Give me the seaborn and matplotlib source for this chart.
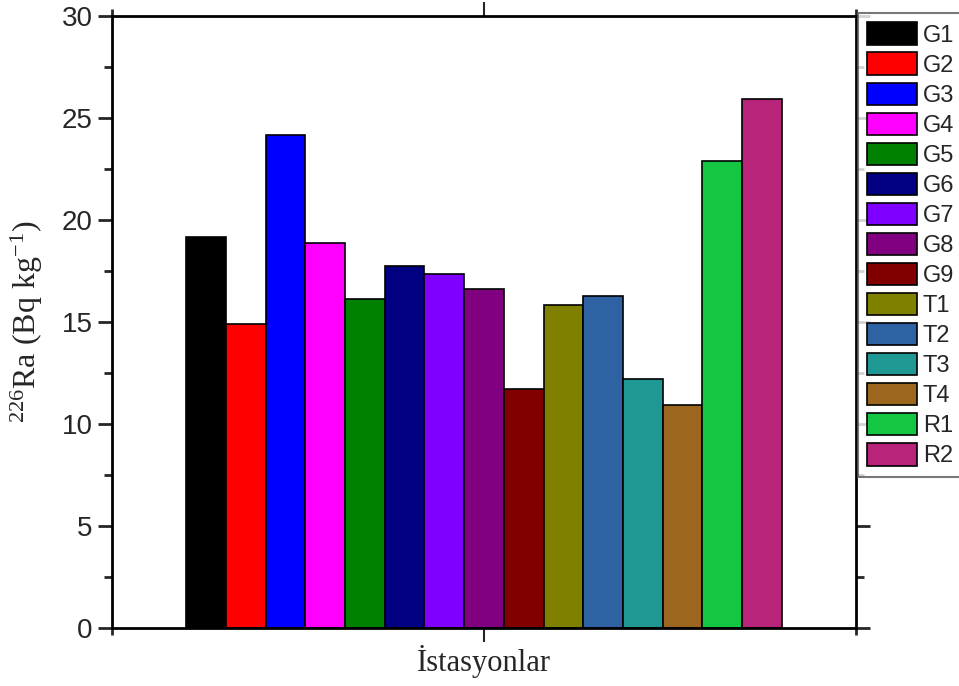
import matplotlib
matplotlib.use("Agg")
import matplotlib.pyplot as plt
import seaborn as sns
import pandas as pd
from matplotlib.ticker import MultipleLocator, FixedLocator

stations = ["G1", "G2", "G3", "G4", "G5", "G6", "G7", "G8", "G9",
            "T1", "T2", "T3", "T4", "R1", "R2"]
values = [19.15, 14.92, 24.15, 18.89, 16.13, 17.76, 17.37, 16.63, 11.73,
          15.83, 16.26, 12.21, 10.93, 22.91, 25.95]
colors = ["#000000", "#FF0000", "#0000FF", "#FF00FF", "#008000", "#000080",
          "#8000FF", "#800080", "#800000", "#808000", "#2E62A2", "#1F9893",
          "#9C661E", "#14C742", "#B8247A"]

df = pd.DataFrame({"group": [""] * len(stations), "station": stations, "value": values})

sns.set_style("ticks")
plt.rcParams["mathtext.fontset"] = "custom"
plt.rcParams["mathtext.rm"] = "Liberation Serif"
plt.rcParams["mathtext.it"] = "Liberation Serif:italic"
plt.rcParams["mathtext.bf"] = "Liberation Serif:bold"

fig = plt.figure(figsize=(9.59, 6.86), dpi=100)
ax = fig.add_axes([112 / 959, 1 - 628 / 686, (856 - 112) / 959, (628 - 16) / 686])

sns.barplot(data=df, x="group", y="value", hue="station", hue_order=stations,
            palette=colors, width=0.8, dodge=True, saturation=1,
            edgecolor="black", linewidth=1.2, ax=ax, legend=True)

ax.set_xlim(-0.5, 0.5)
ax.set_ylim(0, 30)
ax.yaxis.set_major_locator(MultipleLocator(5))
ax.yaxis.set_minor_locator(MultipleLocator(2.5))
ax.xaxis.set_major_locator(FixedLocator([0]))
ax.xaxis.set_minor_locator(FixedLocator([-0.5, 0.5]))
ax.set_xticklabels([""])

for s in ax.spines.values():
    s.set_visible(True)
    s.set_linewidth(2)
    s.set_color("black")

ax.tick_params(axis="y", which="major", direction="out", length=10, width=2,
               left=True, right=True, labelsize=20, pad=4)
ax.tick_params(axis="y", which="minor", direction="out", length=6, width=2,
               left=True, right=True)
ax.tick_params(axis="x", which="major", direction="out", length=10, width=1.5,
               bottom=True, top=True, pad=0)
ax.tick_params(axis="x", which="minor", direction="out", length=5, width=2,
               bottom=True, top=True)
for lab in ax.get_yticklabels():
    lab.set_fontfamily("Liberation Sans")

ax.set_xlabel("İstasyonlar", fontfamily="Liberation Serif", fontsize=22, labelpad=2)
ax.set_ylabel(r"$\mathregular{^{226}}$Ra (Bq kg$\mathregular{^{-1}}$)",
              fontfamily="Liberation Serif", fontsize=23, labelpad=12)

handles, labels = ax.get_legend_handles_labels()
if ax.legend_:
    ax.legend_.remove()
leg = fig.legend(handles, labels, loc="upper left",
                 bbox_to_anchor=(858 / 959, 1 - 13 / 686),
                 bbox_transform=fig.transFigure,
                 prop={"family": "Liberation Sans", "size": 17},
                 handlelength=2.1, handleheight=1.1, labelspacing=0.24,
                 handletextpad=0.25, borderaxespad=0, borderpad=0.4,
                 fancybox=False, frameon=True, edgecolor="#555555")
leg.get_frame().set_linewidth(1.5)
for p in leg.get_patches():
    p.set_edgecolor("black")
    p.set_linewidth(1.2)

fig.savefig("out.png", dpi=100)
